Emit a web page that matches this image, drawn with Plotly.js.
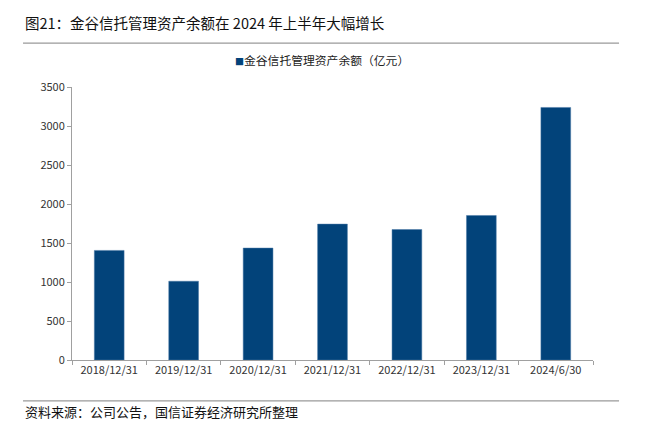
<!DOCTYPE html>
<html><head><meta charset="utf-8">
<script src="https://cdn.plot.ly/plotly-3.0.1.min.js"></script>
<style>html,body{margin:0;padding:0;background:#fff}#c{width:659px;height:423px}</style>
</head><body><div id="c"></div>
<script>
const categories = ["2018/12/31","2019/12/31","2020/12/31","2021/12/31","2022/12/31","2023/12/31","2024/6/30"];
const values = [1405, 1010, 1435, 1742, 1673, 1853, 3238];
const seriesName = "金谷信托管理资产余额（亿元）";
const titleText = "图21：金谷信托管理资产余额在 2024 年上半年大幅增长";
const sourceText = "资料来源：公司公告，国信证券经济研究所整理";
const yTicks = [0,500,1000,1500,2000,2500,3000,3500];
const barColor = "#02437a";

const font = "'Noto Sans CJK SC', 'Liberation Sans', Arial, sans-serif";
const data = [{
  type: "bar", x: categories, y: values, name: seriesName,
  marker: {color: barColor, line: {color: "#4a78a6", width: 0.5}},
  showlegend: false
}];
const layout = {
  width: 659, height: 423,
  margin: {l: 72, r: 66, t: 87, b: 63},
  paper_bgcolor: "#fff", plot_bgcolor: "#fff",
  font: {family: font, size: 11, color: "#333"},
  bargap: 0.6,
  showlegend: false,
  xaxis: {type: "category", showline: true, linecolor: "#a0a0a0", linewidth: 1,
          ticks: "outside", tickson: "boundaries", ticklen: 4, tickcolor: "#a0a0a0",
          tickfont: {size: 11, color: "#333"}, showgrid: false, zeroline: false},
  yaxis: {range: [0, 3500], tickvals: yTicks, showline: true, linecolor: "#a0a0a0", linewidth: 1,
          ticks: "outside", ticklen: 4, tickcolor: "#a0a0a0", showgrid: false, zeroline: false,
          tickfont: {size: 11, color: "#333"}},
  shapes: [
    {type: "line", xref: "paper", yref: "paper", x0: -0.094, x1: 1.05, y0: 1.161, y1: 1.161,
     line: {color: "#9a9a9a", width: 1.2}},
    {type: "line", xref: "paper", yref: "paper", x0: -0.094, x1: 1.05, y0: -0.150, y1: -0.150,
     line: {color: "#9a9a9a", width: 1.2}}
  ],
  annotations: [
    {text: titleText, xref: "paper", yref: "paper", x: -0.094, y: 1.238, xanchor: "left", yanchor: "middle",
     showarrow: false, font: {size: 14.5, color: "#111", family: font}},
    {text: "<span style='color:" + barColor + ";font-size:9px'>■</span>" + seriesName,
     xref: "paper", yref: "paper", x: 0.48, y: 1.102, xanchor: "center", yanchor: "middle",
     showarrow: false, font: {size: 11.8, color: "#222", family: font}},
    {text: sourceText, xref: "paper", yref: "paper", x: -0.094, y: -0.187, xanchor: "left", yanchor: "middle",
     showarrow: false, font: {size: 13, color: "#111", family: font}}
  ]
};
Plotly.newPlot("c", data, layout, {displayModeBar: false, staticPlot: true});
</script></body></html>
